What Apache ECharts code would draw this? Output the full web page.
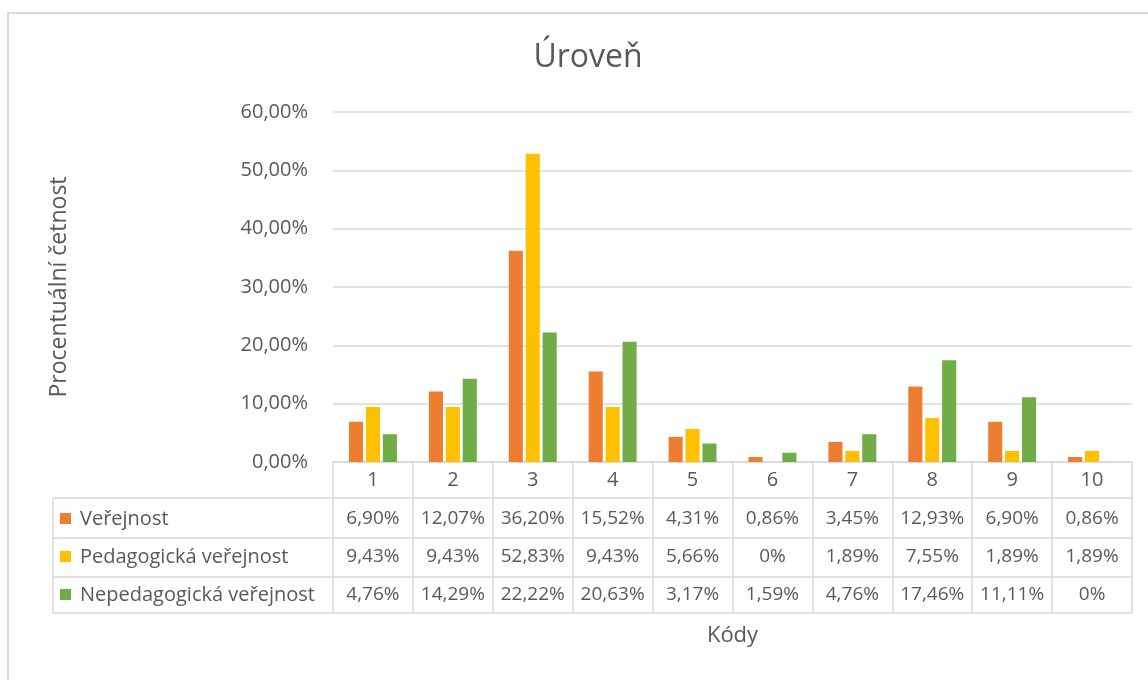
<!DOCTYPE html>
<html>
<head>
<meta charset="utf-8">
<script src="https://cdn.jsdelivr.net/npm/echarts@6/dist/echarts.min.js"></script>
<style>html,body{margin:0;padding:0;background:#fff}#c{width:1148px;height:680px}</style>
</head>
<body>
<div id="c"></div>
<script>
const titleText = 'Úroveň';
const yAxisName = 'Procentuální četnost';
const xAxisName = 'Kódy';
const categories = ['1','2','3','4','5','6','7','8','9','10'];
const seriesNames = ['Veřejnost','Pedagogická veřejnost','Nepedagogická veřejnost'];
const verejnost = [6.90, 12.07, 36.20, 15.52, 4.31, 0.86, 3.45, 12.93, 6.90, 0.86];
const pedagogicka = [9.43, 9.43, 52.83, 9.43, 5.66, 0, 1.89, 7.55, 1.89, 1.89];
const nepedagogicka = [4.76, 14.29, 22.22, 20.63, 3.17, 1.59, 4.76, 17.46, 11.11, 0];
const colors = ['#ED7D31','#FFC000','#70AD47'];

const FONT = '"Open Sans", sans-serif';
const TXT = '#595959';
const LINE = '#D9D9D9';
const fmtPct = v => v === 0 ? '0%' : v.toFixed(2).replace('.', ',') + '%';

const chart = echarts.init(document.getElementById('c'), null, {renderer:'canvas'});
const allSeries = [verejnost, pedagogicka, nepedagogicka];

const gridTop = 112, gridBottomY = 462, gridLeft = 333, gridRight = 1132;
chart.setOption({
  animation:false,
  textStyle:{fontFamily:FONT},
  title:{text:titleText,left:583,textAlign:'center',top:37,
    textStyle:{fontFamily:FONT,fontSize:32,fontWeight:'normal',color:TXT}},
  grid:{left:gridLeft,right:1148-gridRight,top:gridTop,bottom:680-gridBottomY,containLabel:false},
  xAxis:{type:'category',data:categories,
    axisLine:{show:true,lineStyle:{color:LINE,width:1.5}},
    axisTick:{show:true,length:151,lineStyle:{color:LINE,width:1.5}},
    axisLabel:{show:true,fontFamily:FONT,fontSize:20,color:TXT,margin:8}},
  yAxis:{type:'value',min:0,max:60,interval:10,
    name:yAxisName,nameLocation:'middle',nameGap:262,nameRotate:90,
    nameTextStyle:{fontFamily:FONT,fontSize:23,color:TXT},
    axisLine:{show:false},axisTick:{show:false},
    axisLabel:{fontFamily:FONT,fontSize:20,color:TXT,margin:25,
      formatter:v=>v.toFixed(2).replace('.',',')+'%'},
    splitLine:{lineStyle:{color:LINE,width:1.5}}},
  series: seriesNames.map((n,i)=>({
    name:n,type:'bar',data:allSeries[i],barGap:'20%',barCategoryGap:'40%',
    itemStyle:{color:colors[i]}
  }))
});

// data table drawn from data with axis positions
const rowY = [519, 557, 595];
const rowLines = [498, 538, 577, 613];
const tableLeft = 53;
const g = [];
// chart outer border
g.push({type:'rect',shape:{x:8,y:13,width:1160,height:700},style:{fill:null,stroke:LINE,lineWidth:2},silent:true});
rowLines.forEach(y=>{
  g.push({type:'line',shape:{x1:tableLeft,y1:y,x2:gridRight,y2:y},style:{stroke:LINE,lineWidth:1.5}});
});
g.push({type:'line',shape:{x1:tableLeft,y1:rowLines[0],x2:tableLeft,y2:rowLines[3]},style:{stroke:LINE,lineWidth:1.5}});
seriesNames.forEach((n,i)=>{
  g.push({type:'rect',shape:{x:60,y:rowY[i]-6,width:11,height:11},style:{fill:colors[i]}});
  g.push({type:'text',x:80,y:rowY[i],style:{text:n,font:'20px '+FONT,fill:TXT,textVerticalAlign:'middle',textAlign:'left'}});
  allSeries[i].forEach((v,j)=>{
    const x = chart.convertToPixel({xAxisIndex:0}, categories[j]);
    g.push({type:'text',x:x,y:rowY[i],style:{text:fmtPct(v),font:'19px '+FONT,fill:TXT,textVerticalAlign:'middle',textAlign:'center'}});
  });
});
g.push({type:'text',x:(gridLeft+gridRight)/2,y:636,style:{text:xAxisName,font:'22px '+FONT,fill:TXT,textVerticalAlign:'middle',textAlign:'center'}});
chart.setOption({graphic:{elements:g}});
</script>
</body>
</html>
